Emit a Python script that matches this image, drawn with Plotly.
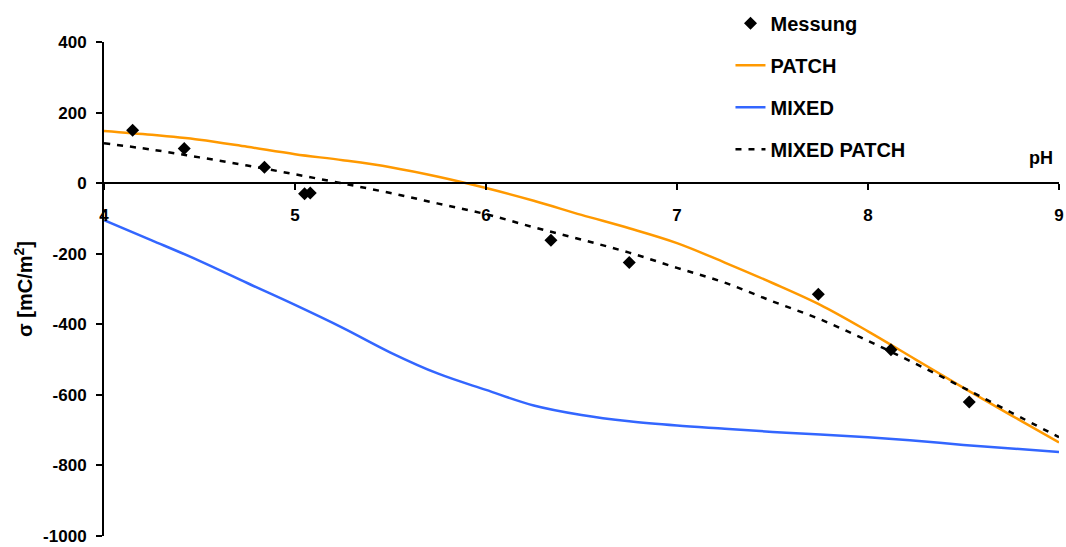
import plotly.graph_objects as go

# Measurement points
mess_ph = [4.15, 4.42, 4.84, 5.05, 5.08, 6.34, 6.75, 7.74, 8.12, 8.53]
mess_sigma = [150, 98, 45, -30, -28, -162, -225, -315, -472, -620]

# Model curves
curve_ph = [4.0, 4.25, 4.5, 4.75, 5.0, 5.25, 5.5, 5.75, 6.0, 6.25, 6.5, 6.75,
            7.0, 7.25, 7.5, 7.75, 8.0, 8.25, 8.5, 8.75, 9.0]
patch = [148, 137, 123, 103, 82, 65, 45, 18, -14, -50, -90, -128,
         -170, -225, -283, -345, -420, -500, -580, -658, -735]
mixed = [-105, -162, -220, -283, -345, -410, -480, -540, -586, -630, -657, -675,
         -687, -696, -705, -712, -720, -730, -742, -752, -762]
mixed_patch = [113, 95, 73, 50, 25, -1, -28, -58, -88, -125, -160, -197,
               -240, -282, -335, -386, -447, -512, -580, -650, -720]

# Axis ticks
x_ticks = [4, 5, 6, 7, 8, 9]
y_ticks = [400, 200, 0, -200, -400, -600, -800, -1000]
y_tick_labels = ["400", "200", "0", "-200", "-400", "-600", "-800", "-1000"]

FONT = "Arial, Liberation Sans, sans-serif"

fig = go.Figure()
fig.add_trace(go.Scatter(x=curve_ph, y=patch, mode="lines", name="PATCH",
                         line=dict(color="#FF9900", width=2.5, shape="spline"),
                         legendgroup="b", legendrank=2))
fig.add_trace(go.Scatter(x=curve_ph, y=mixed, mode="lines", name="MIXED",
                         line=dict(color="#3366FF", width=2.5, shape="spline"),
                         legendgroup="c", legendrank=3))
fig.add_trace(go.Scatter(x=curve_ph, y=mixed_patch, mode="lines", name="MIXED PATCH",
                         line=dict(color="black", width=2.5, dash="6px,7px", shape="spline"),
                         legendgroup="d", legendrank=4))
fig.add_trace(go.Scatter(x=mess_ph, y=mess_sigma, mode="markers", name="Messung",
                         marker=dict(symbol="diamond", size=10, color="black"),
                         legendgroup="a", legendrank=1))

axis_font = dict(family=FONT, size=17, color="black", weight="bold")

fig.update_layout(
    width=1066, height=547,
    margin=dict(l=104, r=7, t=42, b=11, autoexpand=False),
    plot_bgcolor="white", paper_bgcolor="white",
    font=dict(family=FONT, color="black"),
    showlegend=True,
    legend=dict(x=0.656, y=0.993, yref="container", xanchor="left", yanchor="top",
                bgcolor="rgba(0,0,0,0)", tracegroupgap=13,
                font=dict(family=FONT, size=20, color="black", weight="bold")),
    xaxis=dict(range=[4, 9], tickvals=x_ticks,
               anchor="free", position=1000 / 1400, side="bottom",
               showline=True, linewidth=2, linecolor="black",
               ticks="outside", ticklen=6, tickwidth=2, tickcolor="black",
               ticklabelstandoff=10,
               showgrid=False, zeroline=False, tickfont=axis_font),
    yaxis=dict(range=[-1000, 400], tickvals=y_ticks, ticktext=y_tick_labels,
               showline=True, linewidth=2, linecolor="black",
               ticks="outside", ticklen=6, tickwidth=2, tickcolor="black",
               ticklabelstandoff=6,
               showgrid=False, zeroline=False, tickfont=axis_font,
               title=dict(text="σ [mC/m<sup>2</sup>]", standoff=5,
                          font=dict(family=FONT, size=20, color="black", weight="bold"))),
    annotations=[dict(text="pH", xref="paper", yref="paper", x=0.981, y=0.765,
                      showarrow=False, xanchor="center", yanchor="middle",
                      font=dict(family=FONT, size=18, color="black", weight="bold"))],
)

fig.write_html("out.html", config={"displayModeBar": False},
               post_script="document.body.style.margin='0px';")
